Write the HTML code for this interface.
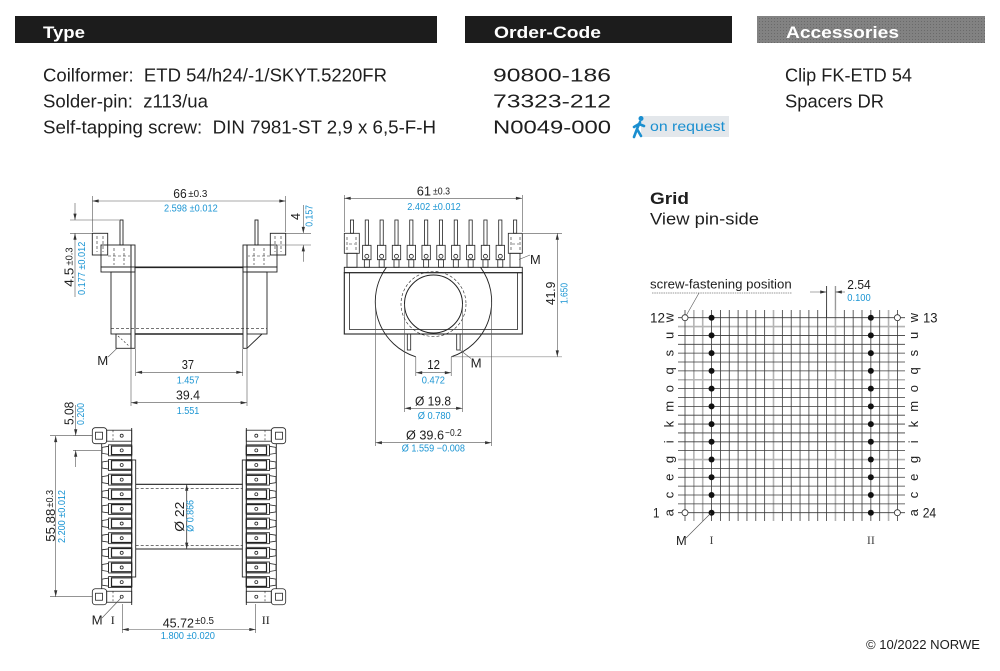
<!DOCTYPE html>
<html><head><meta charset="utf-8"><style>
html,body{margin:0;padding:0;background:#fff;}
svg{display:block;}
</style></head><body>
<svg width="1000" height="671" viewBox="0 0 1000 671" xmlns="http://www.w3.org/2000/svg" font-family="'Liberation Sans', Arial, sans-serif">
<defs>
<marker id="ar" viewBox="0 0 8 4" refX="8" refY="2" markerWidth="7" markerHeight="3.2" markerUnits="userSpaceOnUse" orient="auto-start-reverse"><path d="M0,0L8,2L0,4z" fill="#333"/></marker>
<pattern id="dots" width="3" height="3" patternUnits="userSpaceOnUse"><rect width="3" height="3" fill="#828282"/><rect width="1" height="1" fill="#6a6a6a"/></pattern>
<g id="tl" fill="none" stroke="#222" stroke-width="0.9">
 <rect x="120" y="220" width="3" height="25"/>
 <rect x="92.3" y="233.3" width="15.4" height="21.7"/>
 <rect x="101" y="245" width="30" height="22"/>
 <rect x="101" y="267" width="34" height="5"/>
 <rect x="111" y="272" width="20" height="62"/>
 <rect x="131" y="245" width="4" height="103.3"/>
 <path d="M97,236V252M103,236V252M114,248V265M124,248V265M108,256H130" stroke-dasharray="3,2" stroke-width="0.6"/>
</g>
<g id="pin" fill="none" stroke="#222" stroke-width="0.8">
 <rect x="-1.6" y="220" width="3.2" height="25.3"/>
 <rect x="-4.2" y="245.3" width="8.4" height="14.4"/>
 <circle cx="0" cy="256.3" r="2"/>
 <rect x="-2.5" y="259.7" width="5" height="7.6"/>
</g>
<g id="row" fill="none" stroke="#222" stroke-width="0.8">
 <polygon points="102,-3 108.5,-4 108.5,4 102,3"/>
 <rect x="108.5" y="-5.5" width="23.2" height="11"/>
 <rect x="111.5" y="-4.3" width="20.2" height="8.6" stroke-width="1.2"/>
 <circle cx="121.7" cy="0" r="1.5"/>
</g>
<g id="rowS" fill="none" stroke="#222" stroke-width="0.8">
 <rect x="92.3" y="-8" width="14.4" height="16" rx="3"/>
 <rect x="95.5" y="-3.5" width="7" height="7"/>
 <rect x="106.7" y="-5.5" width="25" height="11"/>
 <line x1="113" y1="-5.5" x2="113" y2="5.5" stroke-dasharray="2,2" stroke-width="0.6"/>
 <circle cx="121.7" cy="0" r="1.5"/>
</g>
<g id="colL">
 <use href="#rowS" y="435.7"/>
 <use href="#row" y="450.34"/>
 <use href="#row" y="464.98"/>
 <use href="#row" y="479.62"/>
 <use href="#row" y="494.26"/>
 <use href="#row" y="508.9"/>
 <use href="#row" y="523.54"/>
 <use href="#row" y="538.18"/>
 <use href="#row" y="552.82"/>
 <use href="#row" y="567.46"/>
 <use href="#row" y="582.1"/>
 <use href="#rowS" y="596.74"/>
 <path d="M101.7,443.7V588.7M131.7,428V605" stroke="#222" stroke-width="0.9" fill="none"/>
 <rect x="131.7" y="460" width="4" height="117" fill="none" stroke="#222" stroke-width="0.9"/>
</g>
</defs>

<!-- Header -->
<rect x="15" y="16" width="422" height="27" fill="#1c1c1c"/>
<text x="43" y="38" font-weight="bold" font-size="17" fill="#fff" textLength="42" lengthAdjust="spacingAndGlyphs">Type</text>
<rect x="465" y="16" width="267" height="27" fill="#1c1c1c"/>
<text x="494" y="38" font-weight="bold" font-size="17" fill="#fff" textLength="107" lengthAdjust="spacingAndGlyphs">Order-Code</text>
<rect x="757" y="16" width="228" height="27" fill="url(#dots)"/>
<text x="786" y="38" font-weight="bold" font-size="17" fill="#fff" textLength="113" lengthAdjust="spacingAndGlyphs">Accessories</text>

<g font-size="18.5" fill="#1e1e1e">
<text x="43" y="81.5" textLength="344" lengthAdjust="spacingAndGlyphs">Coilformer:&#160; ETD 54/h24/-1/SKYT.5220FR</text>
<text x="43" y="107.3" textLength="165" lengthAdjust="spacingAndGlyphs">Solder-pin:&#160; z113/ua</text>
<text x="43" y="133.3" textLength="393" lengthAdjust="spacingAndGlyphs">Self-tapping screw:&#160; DIN 7981-ST 2,9 x 6,5-F-H</text>
<text x="493" y="81.5" textLength="118" lengthAdjust="spacingAndGlyphs">90800-186</text>
<text x="493" y="107.3" textLength="118" lengthAdjust="spacingAndGlyphs">73323-212</text>
<text x="493" y="133.3" textLength="118" lengthAdjust="spacingAndGlyphs">N0049-000</text>
<text x="785" y="81.5" textLength="127" lengthAdjust="spacingAndGlyphs">Clip FK-ETD 54</text>
<text x="785" y="107.3" textLength="99" lengthAdjust="spacingAndGlyphs">Spacers DR</text>
</g>
<rect x="641" y="116" width="88" height="21" fill="#e3e7eb"/>
<g stroke="#1a8fd0" stroke-width="2.6" fill="none" stroke-linecap="round">
 <path d="M640,122L637,129L634,137M637,129L641,136M639,124L644,126M639,124L634,127"/>
</g>
<circle cx="641" cy="118.5" r="2.5" fill="#1a8fd0"/>
<text x="650" y="131" font-size="14" fill="#1a8fd0" textLength="75" lengthAdjust="spacingAndGlyphs">on request</text>

<!-- ===== Top-left side view ===== -->
<use href="#tl"/>
<use href="#tl" transform="translate(378,0) scale(-1,1)"/>
<g fill="none" stroke="#222" stroke-width="0.9">
 <path d="M135,267.3H243" stroke-width="1.6"/>
 <path d="M135,334H243" stroke-width="1.6"/>
 <path d="M111,328.3H267" stroke-dasharray="3,2" stroke-width="0.6"/>
 <rect x="116" y="334" width="15" height="14.3"/>
 <path d="M118,336L129,346" stroke-dasharray="2,2" stroke-width="0.6"/>
 <path d="M247,348.3L262,334"/>
</g>
<g fill="none" stroke="#555" stroke-width="0.6">
 <path d="M92.3,196V232M285.7,196V232"/>
 <path d="M92.3,201H285.7" marker-start="url(#ar)" marker-end="url(#ar)"/>
 <path d="M286,233.3H311M278,245H311"/>
 <path d="M303.3,205V233.3" marker-end="url(#ar)"/>
 <path d="M303.3,261.7V245" marker-end="url(#ar)"/>
 <path d="M70,220H119M70,233.3H92"/>
 <path d="M75,203V220" marker-end="url(#ar)"/>
 <path d="M75,297V233.3" marker-end="url(#ar)"/>
 <path d="M135.7,349V376M242.7,349V376"/>
 <path d="M135.7,372.3H242.7" marker-start="url(#ar)" marker-end="url(#ar)"/>
 <path d="M131,349V406M247,349V406"/>
 <path d="M131,402.7H247" marker-start="url(#ar)" marker-end="url(#ar)"/>
 <path d="M108,357L117,348.3"/>
</g>
<g fill="#1e1e1e" font-size="13">
 <text x="173.3" y="198" textLength="13.4" lengthAdjust="spacingAndGlyphs">66</text>
 <text x="188.3" y="197" font-size="10" textLength="19" lengthAdjust="spacingAndGlyphs">±0.3</text>
 <text transform="translate(300,220) rotate(-90)" textLength="7" lengthAdjust="spacingAndGlyphs">4</text>
 <text transform="translate(73.3,286.7) rotate(-90)" textLength="19" lengthAdjust="spacingAndGlyphs">4.5</text>
 <text transform="translate(72.5,265.5) rotate(-90)" font-size="10" textLength="18" lengthAdjust="spacingAndGlyphs">±0.3</text>
 <text x="181.7" y="369" textLength="12.3" lengthAdjust="spacingAndGlyphs">37</text>
 <text x="176" y="399.5" textLength="24" lengthAdjust="spacingAndGlyphs">39.4</text>
 <text x="97.3" y="365" textLength="11" lengthAdjust="spacingAndGlyphs">M</text>
</g>
<g fill="#1b95d3" font-size="10">
 <text x="164" y="211.7" textLength="53.7" lengthAdjust="spacingAndGlyphs">2.598 ±0.012</text>
 <text transform="translate(312.7,226.7) rotate(-90)" textLength="21.7" lengthAdjust="spacingAndGlyphs">0.157</text>
 <text transform="translate(85,295) rotate(-90)" textLength="53.3" lengthAdjust="spacingAndGlyphs">0.177 ±0.012</text>
 <text x="176.7" y="383.3" textLength="22.6" lengthAdjust="spacingAndGlyphs">1.457</text>
 <text x="176.7" y="414" textLength="22.6" lengthAdjust="spacingAndGlyphs">1.551</text>
</g>

<!-- ===== Middle front view ===== -->
<use href="#pin" x="366.83"/>
<use href="#pin" x="381.66"/>
<use href="#pin" x="396.49"/>
<use href="#pin" x="411.32"/>
<use href="#pin" x="426.15"/>
<use href="#pin" x="440.98"/>
<use href="#pin" x="455.81"/>
<use href="#pin" x="470.64"/>
<use href="#pin" x="485.47"/>
<use href="#pin" x="500.3"/>
<g fill="none" stroke="#222" stroke-width="0.8">
 <rect x="350.4" y="220" width="3.2" height="13.3"/>
 <rect x="344.3" y="233.3" width="15" height="20"/>
 <rect x="347" y="253.3" width="10" height="14"/>
 <rect x="513.5" y="220" width="3.2" height="13.3"/>
 <rect x="508.3" y="233.3" width="14" height="20"/>
 <rect x="510" y="253.3" width="10" height="14"/>
 <path d="M347,237V250M356,237V250M511,237V250M520,237V250M349,244H355M512,244H519" stroke-dasharray="3,2" stroke-width="0.6"/>
 <rect x="344.3" y="267.3" width="178" height="5.4" stroke-width="0.9"/>
 <rect x="344.3" y="272.7" width="178" height="61.3" stroke-width="1.1"/>
 <path d="M349.5,272.7V329.5H517.5V272.7" stroke-width="0.8"/>
 <path d="M386.45,267.3A58,58 0 0 0 415.8,356.8" stroke-width="0.9"/>
 <path d="M480.55,267.3A58,58 0 0 1 451.2,356.8" stroke-width="0.9"/>
 <circle cx="433.5" cy="304" r="29" stroke-width="1"/>
 <circle cx="433.5" cy="304" r="32.5" stroke-dasharray="3,2" stroke-width="0.6"/>
 <rect x="407.3" y="334" width="3.4" height="16"/>
 <rect x="456.7" y="334" width="3.4" height="16"/>
</g>
<g fill="none" stroke="#555" stroke-width="0.6">
 <path d="M344.3,195V232M522.3,195V232"/>
 <path d="M344.3,198.3H522.3" marker-start="url(#ar)" marker-end="url(#ar)"/>
 <path d="M523,233.3H562"/>
 <path d="M451.2,356.8H562" stroke="#888"/>
 <path d="M557.3,233.3V356.8" marker-start="url(#ar)" marker-end="url(#ar)"/>
 <path d="M415.8,357V376M451.2,357V376"/>
 <path d="M415.8,372.7H451.2" marker-start="url(#ar)" marker-end="url(#ar)"/>
 <path d="M404.5,304V412M462.5,304V412"/>
 <path d="M404.5,408.3H462.5" marker-start="url(#ar)" marker-end="url(#ar)"/>
 <path d="M375.5,302V446M491.5,302V446"/>
 <path d="M375.5,442.7H491.5" marker-start="url(#ar)" marker-end="url(#ar)"/>
 <path d="M460,350L471,358.5M519,259.5L530,255"/>
</g>
<g fill="#1e1e1e" font-size="13">
 <text x="416.7" y="195.5" textLength="14.3" lengthAdjust="spacingAndGlyphs">61</text>
 <text x="433" y="194.5" font-size="10" textLength="17" lengthAdjust="spacingAndGlyphs">±0.3</text>
 <text transform="translate(555,305) rotate(-90)" textLength="23.3" lengthAdjust="spacingAndGlyphs">41.9</text>
 <text x="427.3" y="369" textLength="12.7" lengthAdjust="spacingAndGlyphs">12</text>
 <text x="415" y="405.7" textLength="36" lengthAdjust="spacingAndGlyphs">Ø 19.8</text>
 <text x="406" y="439.3" textLength="38" lengthAdjust="spacingAndGlyphs">Ø 39.6</text>
 <text x="445" y="436" font-size="10" textLength="16.7" lengthAdjust="spacingAndGlyphs">−0.2</text>
 <text x="530" y="264" textLength="10.7" lengthAdjust="spacingAndGlyphs">M</text>
 <text x="470.7" y="367.3" textLength="11" lengthAdjust="spacingAndGlyphs">M</text>
</g>
<g fill="#1b95d3" font-size="10">
 <text x="407.3" y="210" textLength="53.4" lengthAdjust="spacingAndGlyphs">2.402 ±0.012</text>
 <text transform="translate(567.3,304) rotate(-90)" textLength="21" lengthAdjust="spacingAndGlyphs">1.650</text>
 <text x="421.7" y="383.3" textLength="23.3" lengthAdjust="spacingAndGlyphs">0.472</text>
 <text x="417.7" y="419" textLength="33" lengthAdjust="spacingAndGlyphs">Ø 0.780</text>
 <text x="401.7" y="451.7" textLength="63.3" lengthAdjust="spacingAndGlyphs">Ø 1.559 −0.008</text>
</g>

<!-- ===== Bottom-left top view ===== -->
<use href="#colL"/>
<use href="#colL" transform="translate(378,0) scale(-1,1)"/>
<g fill="none" stroke="#222" stroke-width="0.9">
 <path d="M135.7,484.3H242.7M135.7,549H242.7" stroke-width="1.1"/>
 <path d="M135.7,488.3H242.7M135.7,545.7H242.7" stroke-dasharray="3,2" stroke-width="0.6"/>
</g>
<g fill="none" stroke="#555" stroke-width="0.6">
 <path d="M186.7,484.3V549" marker-start="url(#ar)" marker-end="url(#ar)" stroke="#333" stroke-width="0.8"/>
 <path d="M73,435.7H92M73,450.3H101"/>
 <path d="M75.7,405V435.7" marker-end="url(#ar)"/>
 <path d="M75.7,467V450.3" marker-end="url(#ar)"/>
 <path d="M50,435.7H92M50,596.7H92"/>
 <path d="M55.7,435.7V596.7" marker-start="url(#ar)" marker-end="url(#ar)"/>
 <path d="M122.3,604V633M255.7,604V633"/>
 <path d="M122.3,629.5H255.7" marker-start="url(#ar)" marker-end="url(#ar)"/>
 <path d="M102,618L121,598"/>
</g>
<g fill="#1e1e1e" font-size="13">
 <text transform="translate(184,531.7) rotate(-90)" textLength="30" lengthAdjust="spacingAndGlyphs">Ø 22</text>
 <text transform="translate(73.3,425) rotate(-90)" textLength="23.3" lengthAdjust="spacingAndGlyphs">5.08</text>
 <text transform="translate(55,541.7) rotate(-90)" textLength="33" lengthAdjust="spacingAndGlyphs">55.88</text>
 <text transform="translate(53,507.5) rotate(-90)" font-size="10" textLength="17.5" lengthAdjust="spacingAndGlyphs">±0.3</text>
 <text x="162.7" y="627.3" textLength="31.3" lengthAdjust="spacingAndGlyphs">45.72</text>
 <text x="195" y="624" font-size="10" textLength="19" lengthAdjust="spacingAndGlyphs">±0.5</text>
 <text x="91.7" y="624.3" textLength="11" lengthAdjust="spacingAndGlyphs">M</text>
 <text x="112.8" y="624" font-family="'Liberation Serif', serif" font-size="12" text-anchor="middle">I</text>
 <text x="265.8" y="624" font-family="'Liberation Serif', serif" font-size="12" text-anchor="middle">II</text>
</g>
<g fill="#1b95d3" font-size="10">
 <text transform="translate(193.3,531.7) rotate(-90)" textLength="31.7" lengthAdjust="spacingAndGlyphs">Ø 0.866</text>
 <text transform="translate(84,425) rotate(-90)" textLength="22" lengthAdjust="spacingAndGlyphs">0.200</text>
 <text transform="translate(65,543) rotate(-90)" textLength="53" lengthAdjust="spacingAndGlyphs">2.200 ±0.012</text>
 <text x="160.7" y="639" textLength="54.3" lengthAdjust="spacingAndGlyphs">1.800 ±0.020</text>
</g>

<!-- ===== Grid ===== -->
<text x="650" y="204" font-weight="bold" font-size="16.5" fill="#1e1e1e" textLength="39" lengthAdjust="spacingAndGlyphs">Grid</text>
<text x="650" y="224.5" font-size="17" fill="#1e1e1e" textLength="109" lengthAdjust="spacingAndGlyphs">View pin-side</text>
<text x="650" y="288.3" font-size="12.5" fill="#1e1e1e" textLength="141.7" lengthAdjust="spacingAndGlyphs">screw-fastening position</text>
<path d="M652,293H792" stroke="#999" stroke-width="1" stroke-dasharray="1.5,0.8"/>
<path d="M699,293L686.5,315" stroke="#555" stroke-width="0.6"/>

<!-- gray heavier lines -->
<g stroke="#b4b4b4" stroke-width="1.6" fill="none">
 <path d="M693.85,310V521M702.7,310V521M773.5,310V521M835.45,310V521M888.55,310V521"/>
 <path d="M678,326.56H905M678,379.75H905M678,459.52H905"/>
</g>
<g stroke="#3a3a3a" stroke-width="0.8" fill="none">
 <path d="M685,310V521M711.55,310V521M720.4,310V521M729.25,310V521M738.1,310V521M746.95,310V521M755.8,310V521M764.65,310V521M782.35,310V521M791.2,310V521M800.05,310V521M808.9,310V521M817.75,310V521M826.6,310V521M844.3,310V521M853.15,310V521M862,310V521M870.85,310V521M879.7,310V521M897.4,310V521"/>
 <path d="M678,317.7H905M678,335.43H905M678,344.29H905M678,353.16H905M678,362.02H905M678,370.88H905M678,388.61H905M678,397.48H905M678,406.34H905M678,415.2H905M678,424.07H905M678,432.93H905M678,441.8H905M678,450.66H905M678,468.39H905M678,477.25H905M678,486.12H905M678,494.98H905M678,503.84H905M678,512.71H905"/>
</g>
<g fill="#111">
 <circle cx="711.55" cy="317.7" r="3"/><circle cx="711.55" cy="335.43" r="3"/><circle cx="711.55" cy="353.16" r="3"/><circle cx="711.55" cy="370.88" r="3"/><circle cx="711.55" cy="388.61" r="3"/><circle cx="711.55" cy="406.34" r="3"/><circle cx="711.55" cy="424.07" r="3"/><circle cx="711.55" cy="441.8" r="3"/><circle cx="711.55" cy="459.52" r="3"/><circle cx="711.55" cy="477.25" r="3"/><circle cx="711.55" cy="494.98" r="3"/><circle cx="711.55" cy="512.71" r="3"/>
 <circle cx="870.85" cy="317.7" r="3"/><circle cx="870.85" cy="335.43" r="3"/><circle cx="870.85" cy="353.16" r="3"/><circle cx="870.85" cy="370.88" r="3"/><circle cx="870.85" cy="388.61" r="3"/><circle cx="870.85" cy="406.34" r="3"/><circle cx="870.85" cy="424.07" r="3"/><circle cx="870.85" cy="441.8" r="3"/><circle cx="870.85" cy="459.52" r="3"/><circle cx="870.85" cy="477.25" r="3"/><circle cx="870.85" cy="494.98" r="3"/><circle cx="870.85" cy="512.71" r="3"/>
</g>
<g fill="#fff" stroke="#333" stroke-width="0.8">
 <circle cx="685" cy="317.7" r="3"/><circle cx="685" cy="512.71" r="3"/><circle cx="897.4" cy="317.7" r="3"/><circle cx="897.4" cy="512.71" r="3"/>
</g>
<g font-size="13" fill="#1e1e1e" text-anchor="middle">
 <text transform="translate(673.5,317.7) rotate(-90)">w</text>
 <text transform="translate(673.5,335.43) rotate(-90)">u</text>
 <text transform="translate(673.5,353.16) rotate(-90)">s</text>
 <text transform="translate(673.5,370.88) rotate(-90)">q</text>
 <text transform="translate(673.5,388.61) rotate(-90)">o</text>
 <text transform="translate(673.5,406.34) rotate(-90)">m</text>
 <text transform="translate(673.5,424.07) rotate(-90)">k</text>
 <text transform="translate(673.5,441.8) rotate(-90)">i</text>
 <text transform="translate(673.5,459.52) rotate(-90)">g</text>
 <text transform="translate(673.5,477.25) rotate(-90)">e</text>
 <text transform="translate(673.5,494.98) rotate(-90)">c</text>
 <text transform="translate(673.5,512.71) rotate(-90)">a</text>
 <text transform="translate(918,317.7) rotate(-90)">w</text>
 <text transform="translate(918,335.43) rotate(-90)">u</text>
 <text transform="translate(918,353.16) rotate(-90)">s</text>
 <text transform="translate(918,370.88) rotate(-90)">q</text>
 <text transform="translate(918,388.61) rotate(-90)">o</text>
 <text transform="translate(918,406.34) rotate(-90)">m</text>
 <text transform="translate(918,424.07) rotate(-90)">k</text>
 <text transform="translate(918,441.8) rotate(-90)">i</text>
 <text transform="translate(918,459.52) rotate(-90)">g</text>
 <text transform="translate(918,477.25) rotate(-90)">e</text>
 <text transform="translate(918,494.98) rotate(-90)">c</text>
 <text transform="translate(918,512.71) rotate(-90)">a</text>
</g>
<g font-size="14" fill="#1e1e1e">
 <text x="650" y="322.5" textLength="15" lengthAdjust="spacingAndGlyphs">12</text>
 <text x="653" y="517.5" textLength="6.5" lengthAdjust="spacingAndGlyphs">1</text>
 <text x="923" y="322.5" textLength="14.5" lengthAdjust="spacingAndGlyphs">13</text>
 <text x="922.7" y="517.5" textLength="13.5" lengthAdjust="spacingAndGlyphs">24</text>
</g>
<path d="M686,538L711,513" stroke="#555" stroke-width="0.6"/>
<text x="676" y="545" font-size="13" fill="#1e1e1e" textLength="10.7" lengthAdjust="spacingAndGlyphs">M</text>
<text x="711.55" y="544" font-family="'Liberation Serif', serif" font-size="12" fill="#444" text-anchor="middle">I</text>
<text x="870.85" y="544" font-family="'Liberation Serif', serif" font-size="12" fill="#444" text-anchor="middle">II</text>

<!-- 2.54 dim -->
<g fill="none" stroke="#555" stroke-width="0.6">
 <path d="M826.6,286V317.7" stroke="#333" stroke-width="0.9"/>
 <path d="M835.45,286V310" stroke="#999" stroke-width="1.4"/>
 <path d="M810,292H826.6" marker-end="url(#ar)"/>
 <path d="M845,292H835.45" marker-end="url(#ar)"/>
</g>
<text x="847.3" y="289" font-size="13" fill="#1e1e1e" textLength="23.4" lengthAdjust="spacingAndGlyphs">2.54</text>
<text x="847.3" y="301" font-size="10" fill="#1b95d3" textLength="23.4" lengthAdjust="spacingAndGlyphs">0.100</text>

<text x="866" y="649" font-size="12.5" fill="#1e1e1e" textLength="114" lengthAdjust="spacingAndGlyphs">© 10/2022 NORWE</text>
</svg>
</body></html>
